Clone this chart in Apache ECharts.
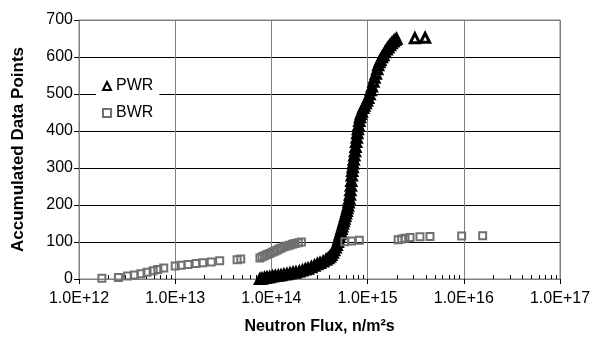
<!DOCTYPE html>
<html>
<head>
<meta charset="utf-8">
<script src="https://cdn.jsdelivr.net/npm/echarts@6/dist/echarts.min.js"></script>
<style>
  html, body { margin: 0; padding: 0; background: #fff; }
  #chart { width: 599px; height: 343px; }
</style>
</head>
<body>
<div id="chart"></div>
<script>
// PWR: [neutron flux n/m2s, accumulated data points]
const pwrPoints = [
  [7.6e13, 0], [8.0e13, 1], [8.5e13, 3], [9.0e13, 4], [9.6e13, 5], [1.03e14, 7],
  [1.1e14, 8], [1.18e14, 9], [1.26e14, 10], [1.35e14, 12], [1.45e14, 13], [1.56e14, 15],
  [1.68e14, 17], [1.8e14, 18], [1.95e14, 20], [2.1e14, 23], [2.25e14, 26], [2.4e14, 28],
  [2.6e14, 32], [2.8e14, 36], [3.0e14, 40], [3.2e14, 43], [3.45e14, 47], [3.7e14, 52],
  [3.9e14, 56], [4.07e14, 60], [4.2e14, 65], [4.35e14, 71], [4.5e14, 78], [4.65e14, 85],
  [4.78e14, 92], [4.9e14, 100], [4.98e14, 107], [5.07e14, 114], [5.16e14, 121], [5.25e14, 128],
  [5.35e14, 135], [5.45e14, 142], [5.55e14, 149], [5.65e14, 156], [5.75e14, 163], [5.85e14, 170],
  [5.95e14, 177], [6.05e14, 184], [6.15e14, 191], [6.25e14, 198], [6.35e14, 207], [6.45e14, 217],
  [6.55e14, 228], [6.62e14, 240], [6.7e14, 252], [6.77e14, 265], [6.84e14, 280], [6.92e14, 292],
  [7.0e14, 302], [7.08e14, 312], [7.18e14, 322], [7.28e14, 334], [7.4e14, 345], [7.5e14, 357],
  [7.6e14, 370], [7.72e14, 382], [7.82e14, 394], [7.93e14, 405], [8.04e14, 415], [8.2e14, 427],
  [8.35e14, 437], [8.5e14, 445], [8.7e14, 452], [9.0e14, 462], [9.25e14, 468], [9.55e14, 475],
  [9.85e14, 482], [1.016e15, 489], [1.05e15, 499], [1.08e15, 510], [1.11e15, 520], [1.15e15, 533],
  [1.18e15, 544], [1.22e15, 555], [1.26e15, 567], [1.29e15, 578], [1.33e15, 586], [1.36e15, 592],
  [1.41e15, 599], [1.46e15, 605], [1.52e15, 613], [1.58e15, 620], [1.64e15, 626], [1.71e15, 632],
  [1.78e15, 637], [1.86e15, 642], [1.93e15, 646], [2.0e15, 649],
  [3.1e15, 651], [3.96e15, 652]
];

// BWR: [neutron flux n/m2s, accumulated data points]
const bwrPoints = [
  [1.73e12, 2], [2.57e12, 4], [3.2e12, 8], [3.75e12, 11], [4.4e12, 14], [5.1e12, 18],
  [5.9e12, 22], [6.6e12, 26], [7.6e12, 30], [1.0e13, 35], [1.15e13, 37], [1.36e13, 39],
  [1.65e13, 42], [1.93e13, 44], [2.37e13, 46], [2.9e13, 49], [4.4e13, 52], [4.8e13, 54],
  [7.6e13, 57], [8.0e13, 60], [8.5e13, 63], [9.0e13, 66], [9.6e13, 69], [1.02e14, 72],
  [1.08e14, 75], [1.14e14, 78], [1.2e14, 81], [1.27e14, 84], [1.35e14, 87], [1.44e14, 89],
  [1.54e14, 91], [1.65e14, 94], [1.76e14, 96], [1.9e14, 98], [2.05e14, 100],
  [5.8e14, 101], [6.8e14, 103], [8.2e14, 105], [2.08e15, 106], [2.26e15, 108], [2.45e15, 110],
  [2.76e15, 112], [3.5e15, 114], [4.45e15, 115], [9.5e15, 116], [1.57e16, 117]
];

const yTicks = [0, 100, 200, 300, 400, 500, 600, 700];
const decades = [12, 13, 14, 15, 16];
const minorMultipliers = [2, 3, 4, 5, 6, 7, 8, 9];

const minorTicks = [];
decades.forEach(d => minorMultipliers.forEach(m => minorTicks.push([m * Math.pow(10, d), 0])));

const font = 'Arial, "Liberation Sans", sans-serif';
const chart = echarts.init(document.getElementById('chart'), null, { renderer: 'canvas' });

chart.setOption({
  animation: false,
  backgroundColor: '#fff',
  textStyle: { fontFamily: font },
  grid: { left: 79, right: 39, top: 20, bottom: 64, show: true, borderColor: '#808080', borderWidth: 1 },
  legend: {
    data: ['PWR', 'BWR'],
    orient: 'vertical',
    left: 96,
    top: 73,
    padding: [5, 6],
    backgroundColor: '#fff',
    itemWidth: 8,
    itemHeight: 8,
    itemGap: 11,
    textStyle: { fontFamily: font, fontSize: 16, color: '#000', lineHeight: 16 }
  },
  xAxis: {
    type: 'log',
    logBase: 10,
    min: 1e12,
    max: 1e17,
    name: 'Neutron Flux, n/m\u00b2s',
    nameLocation: 'middle',
    nameGap: 40,
    nameTextStyle: { fontFamily: font, fontSize: 16, fontWeight: 'bold', color: '#000' },
    axisLine: { show: true, lineStyle: { color: '#808080', width: 1 } },
    axisTick: { show: true, length: 5, lineStyle: { color: '#000' } },
    axisLabel: {
      fontFamily: font, fontSize: 16, color: '#000', margin: 12,
      formatter: v => Number(v).toExponential(1).toUpperCase()
    },
    splitLine: { show: true, lineStyle: { color: '#808080', width: 1 } },
    minorTick: { show: false }
  },
  yAxis: {
    type: 'value',
    min: 0,
    max: 700,
    interval: 100,
    name: 'Accumulated Data Points',
    nameLocation: 'middle',
    nameGap: 52,
    nameTextStyle: { fontFamily: font, fontSize: 17, fontWeight: 'bold', color: '#000' },
    axisLine: { show: true, lineStyle: { color: '#808080', width: 1 } },
    axisTick: { show: true, length: 5, lineStyle: { color: '#000' } },
    axisLabel: { fontFamily: font, fontSize: 16, color: '#000', margin: 6 },
    splitLine: {
      show: true,
      lineStyle: { color: yTicks.map((t, i) => (i === 0 || i === yTicks.length - 1) ? '#808080' : '#000'), width: 1 }
    }
  },
  series: [
    {
      name: 'minor ticks',
      type: 'custom',
      silent: true,
      clip: false,
      data: minorTicks,
      renderItem: (params, api) => {
        const p = api.coord([api.value(0), 0]);
        return {
          type: 'line',
          shape: { x1: Math.round(p[0]) + 0.5, y1: p[1], x2: Math.round(p[0]) + 0.5, y2: p[1] - 4 },
          style: { stroke: '#000', lineWidth: 1 }
        };
      }
    },
    {
      name: 'PWR',
      type: 'scatter',
      clip: false,
      symbol: 'triangle',
      symbolSize: 9,
      data: pwrPoints,
      itemStyle: { color: 'rgba(0,0,0,0)', borderColor: '#000', borderWidth: 3, opacity: 1 }
    },
    {
      name: 'BWR',
      type: 'scatter',
      clip: false,
      symbol: 'rect',
      symbolSize: 7,
      data: bwrPoints,
      itemStyle: { color: 'rgba(0,0,0,0)', borderColor: '#707070', borderWidth: 2, opacity: 1 }
    }
  ]
});
</script>
</body>
</html>
